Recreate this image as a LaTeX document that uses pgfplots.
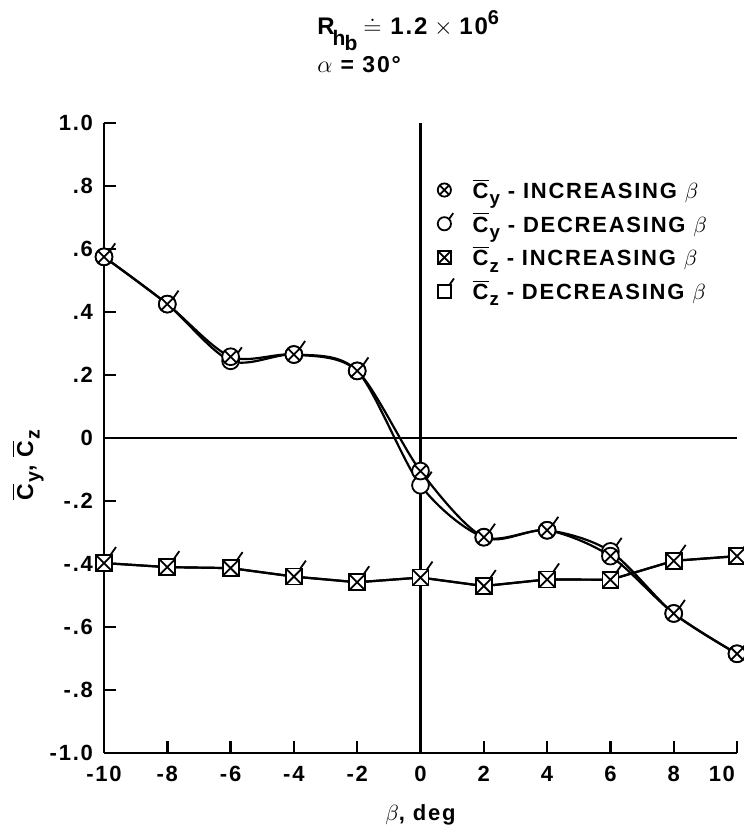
\documentclass[border=0pt]{standalone}
\usepackage{amsmath}
\usepackage{fontspec}
\setmainfont{Liberation Sans}[LetterSpace=8]
\usepackage{pgfplots}
\pgfplotsset{compat=1.18}
\usetikzlibrary{plotmarks}

% circle with a short flag at its upper right
\pgfdeclareplotmark{oflag}{%
  \pgfpathcircle{\pgfpointorigin}{\pgfplotmarksize}%
  \pgfusepathqfillstroke
  \pgfpathmoveto{\pgfpointpolar{45}{\pgfplotmarksize}}%
  \pgfpathlineto{\pgfpointadd{\pgfpointpolar{45}{\pgfplotmarksize}}{\pgfpointpolar{55}{1.1\pgfplotmarksize}}}%
  \pgfusepathqstroke
}
% square with a short flag at its upper right corner
\pgfdeclareplotmark{sqflag}{%
  \pgfpathrectanglecorners{\pgfpoint{-\pgfplotmarksize}{-\pgfplotmarksize}}{\pgfpoint{\pgfplotmarksize}{\pgfplotmarksize}}%
  \pgfusepathqfillstroke
  \pgfpathmoveto{\pgfpoint{0.8\pgfplotmarksize}{\pgfplotmarksize}}%
  \pgfpathlineto{\pgfpoint{1.5\pgfplotmarksize}{2\pgfplotmarksize}}%
  \pgfusepathqstroke
}
% square with a cross inside
\pgfdeclareplotmark{sqx}{%
  \pgfpathrectanglecorners{\pgfpoint{-\pgfplotmarksize}{-\pgfplotmarksize}}{\pgfpoint{\pgfplotmarksize}{\pgfplotmarksize}}%
  \pgfusepathqfillstroke
  \pgfpathmoveto{\pgfpoint{-\pgfplotmarksize}{-\pgfplotmarksize}}%
  \pgfpathlineto{\pgfpoint{\pgfplotmarksize}{\pgfplotmarksize}}%
  \pgfpathmoveto{\pgfpoint{-\pgfplotmarksize}{\pgfplotmarksize}}%
  \pgfpathlineto{\pgfpoint{\pgfplotmarksize}{-\pgfplotmarksize}}%
  \pgfusepathqstroke
}

% barred coefficient with a large, lowered subscript
\newcommand{\Cb}[1]{$\overline{\text{C}}$\kern0.5pt\raisebox{-0.55ex}{\scalebox{0.85}{#1}}}

\pgfplotstableread{
beta  cyinc   cydec   czinc   czdec
-10   0.575   0.575  -0.397  -0.397
-8    0.425   0.425  -0.410  -0.410
-6    0.258   0.245  -0.413  -0.413
-4    0.265   0.265  -0.440  -0.440
-2    0.213   0.213  -0.458  -0.458
0    -0.105  -0.150  -0.443  -0.443
2    -0.315  -0.315  -0.470  -0.470
4    -0.293  -0.293  -0.449  -0.449
6    -0.375  -0.360  -0.450  -0.450
8    -0.557  -0.557  -0.390  -0.390
10   -0.685  -0.685  -0.375  -0.375
}\coef

\begin{document}
\bfseries
\begin{tikzpicture}[font=\bfseries]
\useasboundingbox (-52pt,-37.5pt) rectangle (319.5pt,376.5pt);
\begin{axis}[
  name=ax, at={(0,0)}, anchor=south west,
  scale only axis, width=316.5pt, height=315pt,
  xmin=-10, xmax=10, ymin=-1, ymax=1,
  axis x line=bottom, axis y line=left,
  axis line style={-, line width=1.4pt},
  xtick={-10,-8,-6,-4,-2,0,2,4,6,8,10},
  xticklabels={-10,-8,-6,-4,-2,0,2,4,6,8,\makebox[0pt][r]{10\kern1pt}},
  ytick={-1,-0.8,-0.6,-0.4,-0.2,0,0.2,0.4,0.6,0.8,1},
  yticklabels={-1.0,-.8,-.6,-.4,-.2,0,.2,.4,.6,.8,1.0},
  tick align=inside, major tick length=6pt,
  tick style={line width=1.2pt, black},
  tick label style={font=\bfseries\fontsize{11}{12}\selectfont},
  xticklabel style={yshift=-3pt},
  yticklabel style={xshift=-2pt},
  clip=false,
  legend style={draw=none, fill=none, at={(axis description cs:0.5,0.925)},
    anchor=north west, font=\bfseries\fontsize{11}{13}\selectfont, row sep=1.5pt},
  legend cell align=left,
  legend image code/.code={%
    \draw[#1] plot coordinates {(0.3cm,0cm)};
    \path (0cm,0cm) (0.72cm,0cm);},
]
% zero reference lines
\addplot[line width=1.2pt, forget plot] coordinates {(-10,0) (10,0)};
\addplot[line width=1.2pt, forget plot] coordinates {(0,-1) (0,1)};

% side-force coefficient, decreasing then increasing sweep
\addplot[line width=1.1pt, smooth, tension=0.5, mark=oflag, mark size=4.2pt,
  mark options={solid, fill=white, line width=0.9pt}, forget plot]
  table[x=beta, y=cydec] {\coef};
\addplot[line width=1.1pt, smooth, tension=0.5, mark=otimes*, mark size=4.2pt,
  mark options={solid, fill=white, line width=0.9pt}, forget plot]
  table[x=beta, y=cyinc] {\coef};

% normal-force coefficient
\addplot[line width=1.1pt, mark=sqflag, mark size=4pt,
  mark options={solid, fill=white, line width=0.9pt}, forget plot]
  table[x=beta, y=czdec] {\coef};
\addplot[line width=1.1pt, mark=sqx, mark size=4pt,
  mark options={solid, fill=white, line width=0.9pt}, forget plot]
  table[x=beta, y=czinc] {\coef};

\addlegendimage{mark=otimes*, mark size=3.3pt, mark options={fill=white, line width=0.9pt}}
\addlegendentry{\Cb{y} - INCREASING $\beta$}
\addlegendimage{mark=oflag, mark size=3.3pt, mark options={fill=white, line width=0.9pt}}
\addlegendentry{\Cb{y} - DECREASING $\beta$}
\addlegendimage{mark=sqx, mark size=3.2pt, mark options={fill=white, line width=0.9pt}}
\addlegendentry{\Cb{z} - INCREASING $\beta$}
\addlegendimage{mark=sqflag, mark size=3.2pt, mark options={fill=white, line width=0.9pt}}
\addlegendentry{\Cb{z} - DECREASING $\beta$}
\end{axis}

\node[anchor=base west, font=\bfseries\fontsize{12}{14}\selectfont, inner sep=0pt]
  at ([xshift=106.5pt, yshift=44pt]ax.north west)
  {R\kern-1pt\raisebox{-5.5pt}{\fontsize{10.5}{11}\selectfont h\kern-0.5pt\raisebox{-2.5pt}{b}}\kern3pt%
   $\doteq$ 1.2\kern-1pt\ $\times$\kern-1pt\ 10\raisebox{5pt}{\fontsize{10}{11}\selectfont 6}};
\node[anchor=base west, font=\bfseries\fontsize{11.5}{13}\selectfont, inner sep=0pt]
  at ([xshift=106.5pt, yshift=25pt]ax.north west)
  {$\alpha$ = 30°};
\node[anchor=center, font=\bfseries\fontsize{11}{12}\selectfont]
  at ([yshift=-31pt]ax.south) {$\beta$, deg};
\node[anchor=center, rotate=90, font=\bfseries\fontsize{11.5}{13}\selectfont]
  at ([xshift=-38pt, yshift=144pt]ax.south west) {\Cb{y}, \Cb{z}};
\end{tikzpicture}
\end{document}
